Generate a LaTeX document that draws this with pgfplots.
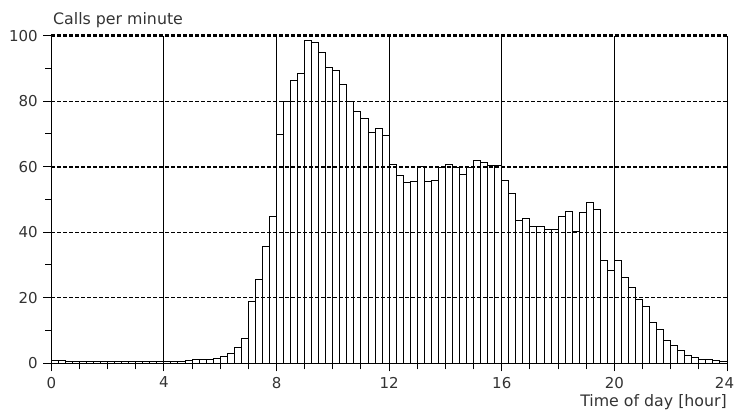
\documentclass[border=0pt]{standalone}
\usepackage{fontspec}
\setmainfont{DejaVu Sans}
\usepackage{pgfplots}
\pgfplotsset{compat=1.18}
\definecolor{txt}{HTML}{333333}
\begin{document}
\begin{tikzpicture}
\begin{axis}[
  scale only axis, width=675.7pt, height=327.7pt,
  at={(51.3pt,49.7pt)}, anchor=south west,
  xmin=0, xmax=24, ymin=0, ymax=100, clip=false,
  axis x line*=bottom, axis y line*=left,
  axis line style={black, line width=1pt},
  xtick={0,4,...,24}, minor xtick={0,1,...,24},
  xticklabels={0,4,8,12,16,20,\hspace*{-5pt}24},
  ytick={0,20,...,100}, minor ytick={10,30,...,90},
  tick align=outside, major tick length=8pt, minor tick length=6pt,
  tick style={black, line width=1pt},
  xmajorgrids, ymajorgrids,
  major x grid style={black, solid, line width=1pt},
  major y grid style={black, dash pattern=on 4pt off 2pt, line width=0.8pt},
  axis on top,
  /pgf/number format/assume math mode=true,
  tick label style={font=\fontsize{15}{17}\selectfont, text=txt},
  xticklabel style={yshift=-4.5pt, inner sep=1pt},
  yticklabel style={xshift=-2pt},
  xlabel={Time of day [hour]},
  ylabel={Calls per minute},
  xlabel style={at={(axis description cs:1,0)}, anchor=east, yshift=-38.8pt, font=\fontsize{15.8}{18}\selectfont, text=txt, inner sep=0pt},
  ylabel style={at={(axis description cs:0,1)}, rotate=-90, anchor=west, yshift=15.6pt, xshift=1.7pt, font=\fontsize{15.8}{18}\selectfont, text=txt, inner sep=0pt},
]
\addplot[ybar interval, draw=black, fill=white, line width=1pt] coordinates {
(0,0.8) (0.25,0.8) (0.5,0.7) (0.75,0.5) (1,0.4) (1.25,0.4) (1.5,0.4) (1.75,0.4)
(2,0.4) (2.25,0.4) (2.5,0.4) (2.75,0.4) (3,0.4) (3.25,0.4) (3.5,0.4) (3.75,0.4)
(4,0.5) (4.25,0.5) (4.5,0.6) (4.75,0.8) (5,1.2) (5.25,1.2) (5.5,1.3) (5.75,1.6)
(6,2.2) (6.25,3.1) (6.5,4.7) (6.75,7.6) (7,18.8) (7.25,25.5) (7.5,35.6) (7.75,44.8)
(8,69.7) (8.25,80.0) (8.5,86.2) (8.75,88.5) (9,98.5) (9.25,98.0) (9.5,94.8) (9.75,90.4)
(10,89.5) (10.25,85.1) (10.5,80.0) (10.75,76.7) (11,74.8) (11.25,70.4) (11.5,71.7) (11.75,69.6)
(12,60.6) (12.25,57.3) (12.5,55.3) (12.75,55.5) (13,60.0) (13.25,55.5) (13.5,55.9) (13.75,59.9)
(14,60.8) (14.25,59.9) (14.5,57.5) (14.75,59.9) (15,62.0) (15.25,61.4) (15.5,60.4) (15.75,60.4)
(16,55.9) (16.25,51.8) (16.5,43.6) (16.75,44.2) (17,41.8) (17.25,41.6) (17.5,40.8) (17.75,40.7)
(18,44.7) (18.25,46.3) (18.5,40.1) (18.75,46.0) (19,49.1) (19.25,46.9) (19.5,31.3) (19.75,28.4)
(20,31.5) (20.25,26.2) (20.5,23.2) (20.75,19.4) (21,17.3) (21.25,12.6) (21.5,10.4) (21.75,7.1)
(22,5.3) (22.25,3.8) (22.5,2.5) (22.75,1.8) (23,1.3) (23.25,1.3) (23.5,1.0) (23.75,0.5)
(24,0.5)
};
\draw[black, dash pattern=on 4pt off 2pt, line width=2.2pt] (axis cs:0,60) -- (axis cs:24,60);
\draw[black, dash pattern=on 4pt off 2pt, line width=2.2pt] (axis cs:0,100) -- (axis cs:24,100);
\end{axis}
\pgfresetboundingbox
\useasboundingbox (0,0) rectangle (734pt,413pt);
\end{tikzpicture}
\end{document}
